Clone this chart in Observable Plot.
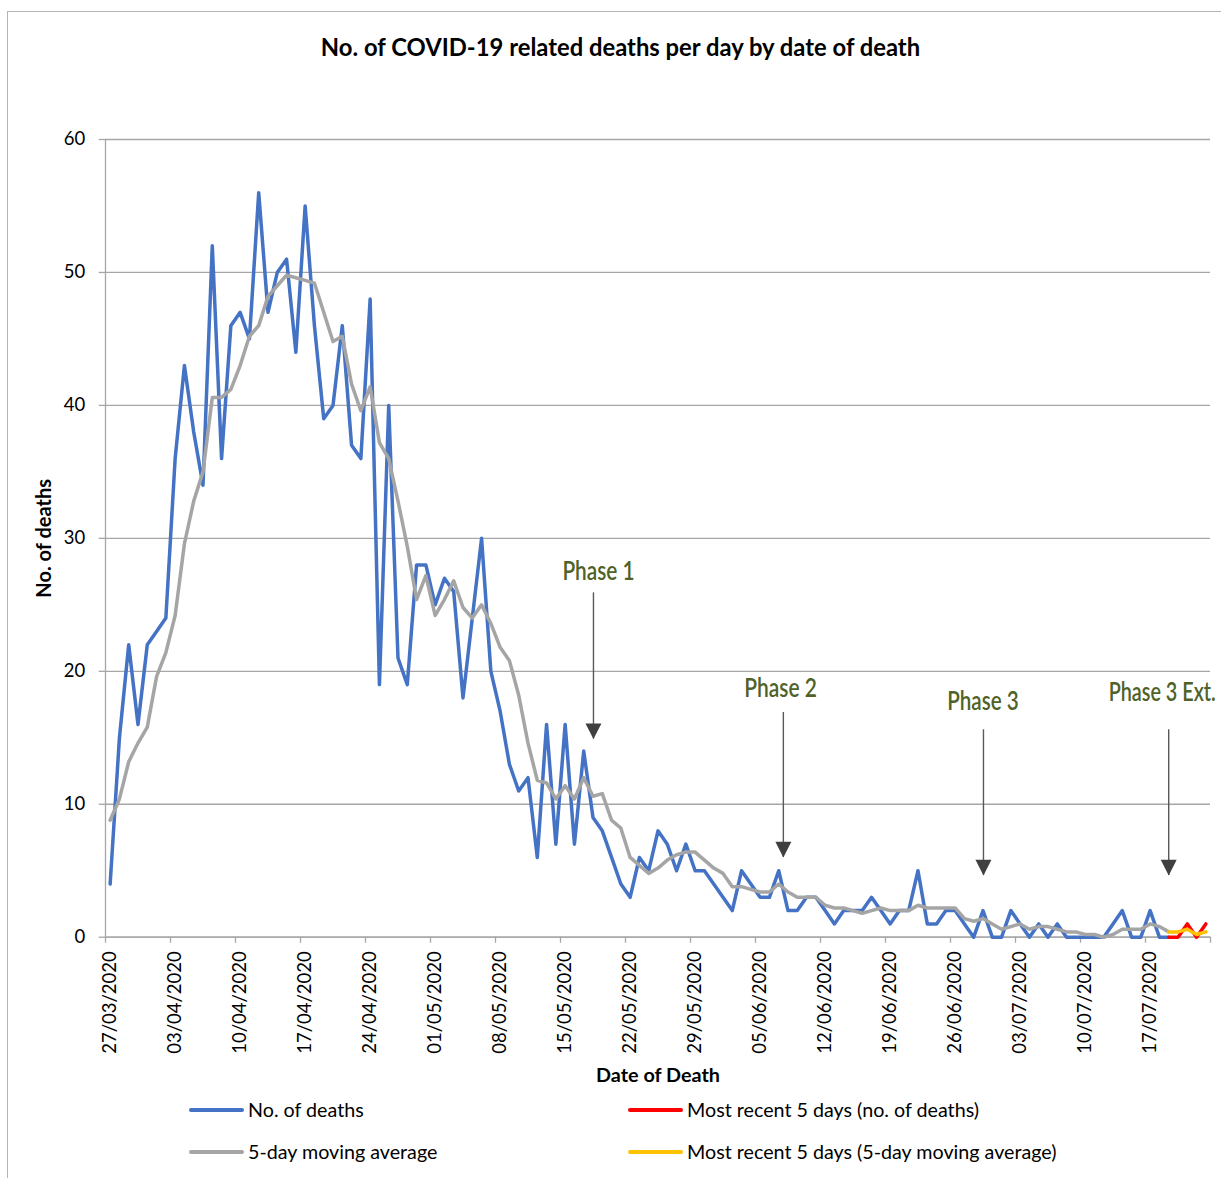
<!DOCTYPE html>
<html>
<head>
<meta charset="utf-8">
<script src="https://cdn.jsdelivr.net/npm/d3@7"></script>
<script src="https://cdn.jsdelivr.net/npm/@observablehq/plot@0.6"></script>
<style>
  body { margin: 0; background: #fff; }
  #wrap { position: relative; width: 1221px; height: 1178px; overflow: hidden; background: #fff; font-family: Lato, "Open Sans", sans-serif; }
  #border { position: absolute; left: 7px; top: 11px; width: 1400px; height: 1400px; border-left: 1px solid #b4b4b4; border-top: 1px solid #b4b4b4; }
  #title { position: absolute; left: 0; width: 1241px; top: 32px; text-align: center; font-weight: 700; font-size: 23.8px; line-height: 30px; color: #000; }
  #chart { position: absolute; left: 0; top: 100px; }
  .leg { position: absolute; display: flex; align-items: center; font-size: 19.7px; color: #000; white-space: nowrap; }
  .leg .sw { width: 55px; height: 4px; margin-right: 4px; border-radius: 2px; }
</style>
</head>
<body>
<div id="wrap">
  <div id="border"></div>
  <div id="title">No. of COVID-19 related deaths per day by date of death</div>
  <div id="chart"></div>
  <div class="leg" style="left:189px; top:1098px;"><div class="sw" style="background:#4472C4"></div><span>No. of deaths</span></div>
  <div class="leg" style="left:628px; top:1098px;"><div class="sw" style="background:#FF0000"></div><span>Most recent 5 days (no. of deaths)</span></div>
  <div class="leg" style="left:189px; top:1140px;"><div class="sw" style="background:#A5A5A5"></div><span>5-day moving average</span></div>
  <div class="leg" style="left:628px; top:1140px;"><div class="sw" style="background:#FFC000"></div><span>Most recent 5 days (5-day moving average)</span></div>
</div>
<script>
// ---- data (day index 0 = 27/03/2020) ----
const deaths = [4,15,22,16,22,23,24,36,43,38,34,52,36,46,47,45,56,47,50,51,44,55,46,39,40,46,37,36,48,19,40,21,19,28,28,25,27,26,18,24,30,20,17,13,11,12,6,16,7,16,7,14,9,8,6,4,3,6,5,8,7,5,7,5,5,4,3,2,5,4,3,3,5,2,2,3,3,2,1,2,2,2,3,2,1,2,2,5,1,1,2,2,1,0,2,0,0,2,1,0,1,0,1,0,0,0,0,0,1,2,0,0,2,0,0];
const movingAvg = [8.8,10.4,13.2,14.6,15.8,19.6,21.4,24.2,29.6,32.8,35.0,40.6,40.6,41.2,43.0,45.2,46.0,48.2,49.0,49.8,49.6,49.4,49.2,47.0,44.8,45.2,41.6,39.6,41.4,37.2,36.0,32.8,29.4,25.4,27.2,24.2,25.4,26.8,24.8,24.0,25.0,23.6,21.8,20.8,18.2,14.6,11.8,11.6,10.4,11.4,10.4,12.0,10.6,10.8,8.8,8.2,6.0,5.4,4.8,5.2,5.8,6.2,6.4,6.4,5.8,5.2,4.8,3.8,3.8,3.6,3.4,3.4,4.0,3.4,3.0,3.0,3.0,2.4,2.2,2.2,2.0,1.8,2.0,2.2,2.0,2.0,2.0,2.4,2.2,2.2,2.2,2.2,1.4,1.2,1.4,1.0,0.6,0.8,1.0,0.6,0.8,0.8,0.6,0.4,0.4,0.2,0.2,0.0,0.2,0.6,0.6,0.6,1.0,0.8,0.4];
const recentStart = 114;
const recentDeaths = [0,0,1,0,1];
const recentAvg = [0.4,0.4,0.6,0.2,0.4];
const dayCount = 119;
const tickDays = [0,7,14,21,28,35,42,49,56,63,70,77,84,91,98,105,112];
const tickLabels = ["27/03/2020","03/04/2020","10/04/2020","17/04/2020","24/04/2020","01/05/2020","08/05/2020","15/05/2020","22/05/2020","29/05/2020","05/06/2020","12/06/2020","19/06/2020","26/06/2020","03/07/2020","10/07/2020","17/07/2020"];
const yTicks = [0,10,20,30,40,50,60];
const phaseLabels = ["Phase 1","Phase 2","Phase 3","Phase 3 Ext."];
const phaseTextDay = [52.6,72.2,94.0,113.3];
const phaseTextValue = [26.9,18.05,17.1,17.75];
const phaseArrowDay = [52.05,72.5,94.05,114.0];
const phaseArrowTop = [25.9,16.9,15.6,15.6];
const phaseArrowTip = [14.9,6.0,4.65,4.65];

// ---- tables built from the arrays ----
const series = (vals, start) => vals.map((v, i) => ({day: start + i, value: v}));
const phases = phaseLabels.map((label, i) => ({
  label, tx: phaseTextDay[i], ty: phaseTextValue[i],
  ax: phaseArrowDay[i], top: phaseArrowTop[i], tip: phaseArrowTip[i]
}));
const tickEdges = tickDays.map(d => d - 0.5).concat([dayCount - 0.5]);

const grid = "#a6a6a6";
const arrowHead = {draw(ctx) { ctx.moveTo(0, 0); ctx.lineTo(-8, -15.6); ctx.lineTo(8, -15.6); ctx.closePath(); }};

const chart = Plot.plot({
  width: 1221,
  height: 990,
  marginLeft: 105,
  marginRight: 11,
  marginTop: 39,
  marginBottom: 153.3,
  style: {fontFamily: "Lato, 'Open Sans', sans-serif", fontSize: "18.5px", color: "#000", background: "transparent", overflow: "visible"},
  x: {type: "linear", domain: [-0.5, dayCount - 0.5], axis: null},
  y: {domain: [0, 60], axis: null},
  marks: [
    Plot.gridY(yTicks, {stroke: grid, strokeOpacity: 1, strokeWidth: 1.3}),
    Plot.axisY(yTicks, {tickSize: 6.3, tickPadding: 14, stroke: grid, strokeWidth: 1.3, strokeOpacity: 1, fill: "#000", fontSize: 18.5, label: null}),
    Plot.axisX(tickEdges, {tickSize: 6, stroke: grid, strokeWidth: 1.3, strokeOpacity: 1, tickFormat: () => "", label: null}),
    Plot.axisX(tickDays, {tickSize: 0, tickPadding: 14, tickRotate: -90, tickFormat: d => tickLabels[tickDays.indexOf(d)], fill: "#000", fontSize: 18.5, label: null}),
    Plot.ruleX([-0.5], {stroke: grid, strokeWidth: 1.3}),
    Plot.ruleY([0], {stroke: grid, strokeWidth: 1.3}),
    Plot.line(series(deaths, 0), {x: "day", y: "value", stroke: "#4472C4", strokeWidth: 3.5, strokeLinejoin: "round", strokeLinecap: "round"}),
    Plot.line(series(movingAvg, 0), {x: "day", y: "value", stroke: "#A5A5A5", strokeWidth: 3.5, strokeLinejoin: "round", strokeLinecap: "round"}),
    Plot.line(series(recentDeaths, recentStart), {x: "day", y: "value", stroke: "#FF0000", strokeWidth: 3.5, strokeLinejoin: "round", strokeLinecap: "round"}),
    Plot.line(series(recentAvg, recentStart), {x: "day", y: "value", stroke: "#FFC000", strokeWidth: 3.5, strokeLinejoin: "round", strokeLinecap: "round"}),
    Plot.ruleX(phases, {x: "ax", y1: "top", y2: "tip", stroke: "#595959", strokeWidth: 1.4}),
    Plot.dot(phases, {x: "ax", y: "tip", symbol: arrowHead, r: 5, fill: "#404040", stroke: "none"}),
    Plot.text(phases, {x: "tx", y: "ty", text: "label", fill: "#4F6228", fontSize: 26, fontWeight: 600, lineAnchor: "bottom", textAnchor: "middle", className: "phase-label"}),
    Plot.text(["Date of Death"], {frameAnchor: "bottom", dy: 138.3, lineAnchor: "middle", fontWeight: 700, fontSize: 19.8, fill: "#000"}),
    Plot.text(["No. of deaths"], {frameAnchor: "left", dx: -61, rotate: -90, lineAnchor: "middle", textAnchor: "middle", fontWeight: 700, fontSize: 20, fill: "#000"})
  ]
});
document.getElementById("chart").appendChild(chart);

// condense the phase annotation lettering like the original narrow face
const phaseWidths = [72.3, 72.7, 71.6, 107];
chart.querySelectorAll("g.phase-label text").forEach((t, i) => {
  const k = phaseWidths[i] / t.getComputedTextLength();
  const tr = t.getAttribute("transform") || "";
  const x = +(t.getAttribute("x") || 0), y = +(t.getAttribute("y") || 0);
  t.removeAttribute("x");
  t.removeAttribute("y");
  t.setAttribute("transform", `${tr} translate(${x},${y}) scale(${k.toFixed(4)},1)`);
});
</script>
</body>
</html>
